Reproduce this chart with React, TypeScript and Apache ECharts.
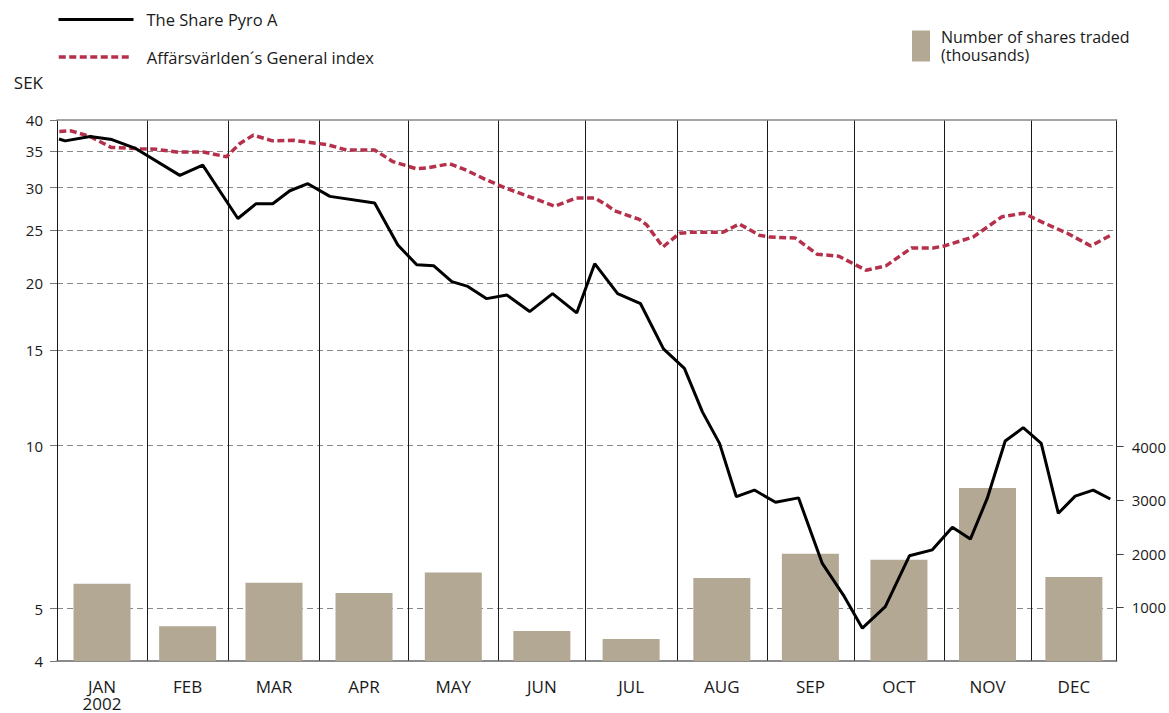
import React, { useEffect, useRef } from 'react';
import * as echarts from 'echarts';

const months = ['JAN', 'FEB', 'MAR', 'APR', 'MAY', 'JUN', 'JUL', 'AUG', 'SEP', 'OCT', 'NOV', 'DEC'];
const yearLabel = '2002';
// month boundaries on the day axis (day of year)
const monthBounds = [0, 31, 59, 90.5, 121, 152, 182, 213.5, 244.5, 274.5, 305.5, 335.5, 365];
// shares traded per month (thousands)
const volume = [1440, 650, 1460, 1270, 1650, 560, 410, 1550, 2000, 1890, 3230, 1570];
const sekTicks = [4, 5, 10, 15, 20, 25, 30, 35, 40];
const volumeTicks = [1000, 2000, 3000, 4000];

const pyroDays = [0.7, 2.8, 11.4, 18.9, 26.8, 42.3, 50.2, 62.3, 68.5, 74.3, 80.2, 86.4, 94.0, 109.4, 117.4, 123.9, 129.8, 136.0, 141.5, 148.0, 154.9, 162.8, 170.7, 179.0, 185.2, 193.1, 201.0, 208.9, 216.1, 222.3, 228.2, 234.0, 240.2, 247.5, 255.4, 263.6, 271.2, 277.4, 285.3, 293.6, 301.5, 308.4, 314.6, 320.4, 326.6, 332.8, 339.0, 344.9, 350.7, 356.9, 362.8];
const pyroSek = [36.9, 36.6, 37.3, 36.8, 35.5, 31.6, 33.0, 26.3, 28.0, 28.0, 29.6, 30.5, 28.9, 28.1, 23.5, 21.6, 21.5, 20.1, 19.7, 18.7, 19.0, 17.7, 19.1, 17.6, 21.7, 19.1, 18.3, 15.1, 13.9, 11.55, 10.1, 8.05, 8.28, 7.86, 8.01, 6.06, 5.26, 4.6, 5.04, 6.26, 6.42, 7.07, 6.72, 7.99, 10.2, 10.8, 10.1, 7.5, 8.07, 8.28, 7.97];

const indexDays = [0.8, 4.8, 11.4, 18.6, 28.6, 34.4, 41.2, 50.4, 58.4, 63.0, 67.6, 74.2, 81.3, 93.3, 99.7, 109.4, 115.7, 123.8, 127.2, 135.3, 141.0, 147.9, 154.8, 163.9, 171.4, 178.9, 185.2, 189.2, 191.9, 200.6, 203.1, 208.7, 214.4, 218.1, 229.4, 235.0, 241.9, 245.6, 254.3, 261.8, 269.3, 278.7, 285.5, 294.3, 301.8, 305.5, 315.5, 325.5, 333.0, 339.3, 348.0, 356.1, 363.0];
const indexSek = [38.1, 38.2, 37.3, 35.6, 35.4, 35.3, 34.9, 34.9, 34.2, 36.2, 37.5, 36.6, 36.7, 36.0, 35.2, 35.2, 33.5, 32.5, 32.6, 33.2, 32.3, 31.0, 29.9, 28.7, 27.7, 28.7, 28.7, 27.9, 27.2, 26.2, 25.6, 23.3, 24.7, 24.8, 24.8, 25.7, 24.5, 24.3, 24.2, 22.6, 22.4, 21.1, 21.5, 23.2, 23.2, 23.4, 24.3, 26.5, 26.9, 25.9, 24.7, 23.4, 24.5];

const PYRO = 'The Share Pyro A';
const INDEX = 'Affärsvärlden´s General index';
const VOL = 'Number of shares traded\n(thousands)';

export default function App() {
  const ref = useRef<HTMLDivElement>(null);
  useEffect(() => {
    if (!ref.current) return;
    const chart = echarts.init(ref.current, undefined, { renderer: 'svg' });
    const lg = Math.log10;
    const centers = months.map((_, i) => (monthBounds[i] + monthBounds[i + 1]) / 2);
    const sekTickVals = sekTicks.map(lg);
    const font = 'Open Sans';
    const txt = { fontFamily: font, fontSize: 15, color: '#1a1a1a' };
    const legendTxt = { ...txt, fontSize: 16.5 };

    chart.setOption({
      animation: false,
      textStyle: { fontFamily: font },
      grid: { left: 57, right: 52, top: 120, bottom: 52, containLabel: false },
      legend: [
        {
          data: [PYRO], left: 57, top: 11, padding: 0, itemWidth: 75, itemHeight: 14, selectedMode: false,
          icon: 'inherit', itemStyle: { opacity: 0 },
          lineStyle: { width: 3 },
          textStyle: { ...legendTxt, padding: [0, 0, 0, 8] },
        },
        {
          data: [INDEX], left: 57, top: 48.5, padding: 0, itemWidth: 70, itemHeight: 14, selectedMode: false,
          icon: 'inherit', itemStyle: { opacity: 0 },
          lineStyle: { width: 3.5 },
          textStyle: { ...legendTxt, padding: [0, 0, 0, 13] },
        },
        {
          data: [VOL], left: 912, top: 28, padding: 0, itemWidth: 18, itemHeight: 31, icon: 'rect', selectedMode: false,
          textStyle: { ...txt, fontSize: 16, lineHeight: 18, padding: [0, 0, 0, 6] },
        },
      ],
      xAxis: [
        {
          type: 'value', min: 0, max: 365, position: 'bottom',
          axisLine: { show: true, onZero: false, lineStyle: { color: '#666', width: 1.5 } },
          axisTick: { show: false, customValues: monthBounds },
          splitLine: { show: true, lineStyle: { color: '#1a1a1a', width: 1 } },
          axisLabel: {
            ...txt,
            fontSize: 17,
            customValues: centers,
            margin: 17,
            lineHeight: 17,
            formatter: (v: number) => {
              const i = centers.findIndex((c) => Math.abs(c - v) < 0.01);
              if (i < 0) return '';
              return i === 0 ? months[i] + '\n' + yearLabel : months[i];
            },
          },
        },
        {
          type: 'value', min: 0, max: 365, position: 'top',
          axisLine: { show: true, onZero: false, lineStyle: { color: '#888', width: 1.5 } },
          axisTick: { show: false }, axisLabel: { show: false }, splitLine: { show: false },
        },
      ],
      yAxis: [
        {
          type: 'value', min: lg(4), max: lg(40), position: 'left',
          name: 'SEK', nameLocation: 'end', nameGap: 29,
          nameTextStyle: { ...txt, fontSize: 17, align: 'right', padding: [0, 14, 0, 0] },
          axisLine: { show: false, onZero: false },
          axisTick: { show: true, length: 7, customValues: sekTickVals, lineStyle: { color: '#777' } },
          axisLabel: { ...txt, customValues: sekTickVals, margin: 14, formatter: (v: number) => String(Math.round(Math.pow(10, v))) },
          splitLine: { show: true, showMinLine: false, showMaxLine: false, lineStyle: { type: [6, 4], color: '#888', width: 1 } },
        },
        {
          type: 'value', min: 0, max: 10100, position: 'right',
          axisLine: { show: true, onZero: false, lineStyle: { color: '#222', width: 1 } },
          axisTick: { show: true, length: 7, customValues: volumeTicks, lineStyle: { color: '#444' } },
          axisLabel: { ...txt, customValues: volumeTicks, margin: 15, formatter: (v: number) => String(v) },
          splitLine: { show: false },
        },
      ],
      series: [
        {
          name: VOL, type: 'bar', xAxisIndex: 0, yAxisIndex: 1, barWidth: 57, z: 2,
          itemStyle: { color: '#b3a893' },
          data: volume.map((v, i) => [centers[i], v]),
        },
        {
          name: INDEX, type: 'line', xAxisIndex: 0, yAxisIndex: 0, symbol: 'none', z: 3,
          lineStyle: { color: '#b5314b', width: 3.5, type: [7, 3.5] },
          itemStyle: { color: '#b5314b' },
          data: indexDays.map((d, i) => [d, lg(indexSek[i])]),
        },
        {
          name: PYRO, type: 'line', xAxisIndex: 0, yAxisIndex: 0, symbol: 'none', z: 4,
          lineStyle: { color: '#000', width: 3 },
          itemStyle: { color: '#000' },
          data: pyroDays.map((d, i) => [d, lg(pyroSek[i])]),
        },
      ],
    });
    return () => chart.dispose();
  }, []);
  return (
    <div
      ref={ref}
      style={{ position: 'fixed', left: 0, top: 0, width: 1169, height: 713, background: '#fff' }}
    />
  );
}
